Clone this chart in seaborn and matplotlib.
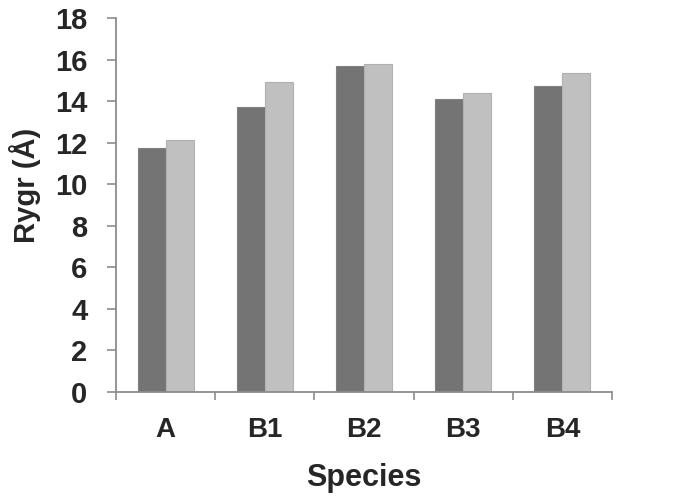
import numpy as np
import pandas as pd
import matplotlib
matplotlib.use("Agg")
import matplotlib.pyplot as plt
import seaborn as sns

SPECIES = ["A", "B1", "B2", "B3", "B4"]
SERIES = ["dark", "light"]
DARK_VALUES = [11.73, 13.71, 15.68, 14.11, 14.72]
LIGHT_VALUES = [12.11, 14.91, 15.79, 14.38, 15.37]
Y_TICKS = [0, 2, 4, 6, 8, 10, 12, 14, 16, 18]

PALETTE = {"dark": "#747474", "light": "#c0c0c0"}
EDGES = {"dark": "#808080", "light": "#b0b0b0"}
SPINE = "#8c8c8c"

df = pd.DataFrame({
    "species": SPECIES * 2,
    "series": [SERIES[0]] * len(SPECIES) + [SERIES[1]] * len(SPECIES),
    "rygr": DARK_VALUES + LIGHT_VALUES,
})

sns.set_style("white")
plt.rcParams["font.family"] = ["Liberation Sans", "DejaVu Sans"]
plt.rcParams["font.weight"] = "bold"

fig = plt.figure(figsize=(6.76, 5.03), dpi=100)
ax = fig.add_axes([0.1716, 0.2213, 0.9053 - 0.1716, 0.9636 - 0.2213])

sns.barplot(data=df, x="species", y="rygr", hue="series", order=SPECIES,
            hue_order=SERIES, palette=PALETTE, width=0.565, gap=0,
            legend=False, ax=ax)

for container, s in zip(ax.containers, SERIES):
    for bar in container:
        bar.set_edgecolor(EDGES[s])
        bar.set_linewidth(0.8)

ax.set_xlim(-0.5, len(SPECIES) - 0.5)
ax.set_ylim(0, 18)
ax.set_yticks(Y_TICKS)
ax.set_yticklabels([str(t) for t in Y_TICKS], fontsize=21, fontweight="bold")
ax.tick_params(axis="y", length=6.5, width=1.2, color=SPINE, pad=14,
               direction="out", left=True)

ax.set_xticks(range(len(SPECIES)))
ax.set_xticklabels(SPECIES, fontsize=20, fontweight="bold")
ax.set_xticks(np.arange(-0.5, len(SPECIES)), minor=True)
ax.tick_params(axis="x", which="major", length=0, pad=18)
ax.tick_params(axis="x", which="minor", length=6, width=1.2, color=SPINE,
               direction="out", bottom=True)

for side in ["top", "right"]:
    ax.spines[side].set_visible(False)
for side in ["left", "bottom"]:
    ax.spines[side].set_color(SPINE)
    ax.spines[side].set_linewidth(1.3)

ax.set_xlabel("Species", fontsize=22, fontweight="bold")
ax.set_ylabel("Rygr (Å)", fontsize=21, fontweight="bold")
ax.xaxis.set_label_coords(0.5, -0.2325)
ax.xaxis.label.set_va("center")
ax.yaxis.set_label_coords(-0.1835, 0.553)
ax.yaxis.label.set_va("center")

fig.savefig("out.png", dpi=100)
